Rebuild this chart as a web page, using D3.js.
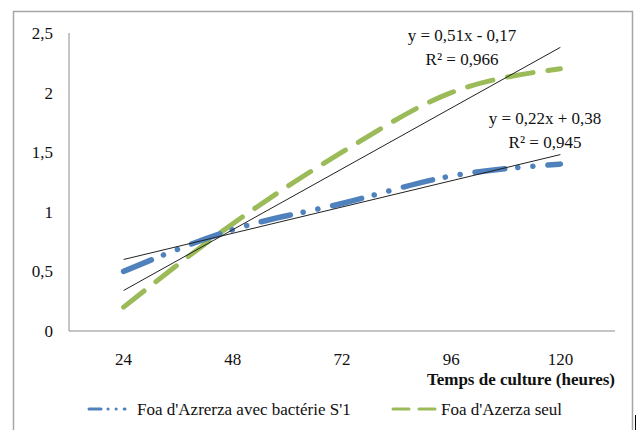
<!DOCTYPE html>
<html>
<head>
<meta charset="utf-8">
<script src="https://cdn.jsdelivr.net/npm/d3@7"></script>
<style>
  body { margin: 0; background: #fff; }
  text { font-family: "Liberation Serif", "Times New Roman", serif; fill: #111; font-size: 17px; }
</style>
</head>
<body>
<div id="chart"></div>
<script>
// growth over culture time

var hours = ['24', '48', '72', '96', '120']
var withBacteria = [0.5, 0.85, 1.07, 1.3, 1.4]
var alone = [0.2, 0.9, 1.5, 2.0, 2.2]
var yTicks = [0, 0.5, 1, 1.5, 2, 2.5]
var seriesNames = ["Foa d'Azrerza avec bactérie S'1", "Foa d'Azerza seul"]
var trends = [
  {slope: 0.22, intercept: 0.38, eq: 'y = 0,22x + 0,38', r2: 'R² = 0,945'},
  {slope: 0.51, intercept: -0.17, eq: 'y = 0,51x - 0,17', r2: 'R² = 0,966'}
]

var width = 641,
  height = 430,
  plotLeft = 69,
  plotRight = 615,
  plotTop = 33,
  plotBottom = 331

var x = d3.scaleBand().domain(hours).range([plotLeft, plotRight])
var y = d3.scaleLinear().domain([0, 2.5]).range([plotBottom, plotTop])
var cx = function(d, i) { return x(hours[i]) + x.bandwidth() / 2 }

var svg = d3.select('#chart').append('svg')
  .attr('width', width)
  .attr('height', height)

// outer frame
svg.append('rect')
  .attr('x', 13.5).attr('y', 11.5)
  .attr('width', 619).attr('height', 440)
  .attr('fill', 'none')
  .attr('stroke', '#a6a6a6')
  .attr('stroke-width', 1.5)

// axes lines
svg.append('line')
  .attr('x1', plotLeft).attr('x2', plotLeft)
  .attr('y1', y(2.5)).attr('y2', plotBottom)
  .attr('stroke', '#8c8c8c')
svg.append('line')
  .attr('x1', plotLeft).attr('x2', plotRight)
  .attr('y1', plotBottom).attr('y2', plotBottom)
  .attr('stroke', '#8c8c8c')

svg.selectAll('text.ytick').data(yTicks)
  .enter().append('text')
  .classed('ytick', true)
  .attr('x', 53)
  .attr('y', function(d) { return y(d) + 6 })
  .attr('text-anchor', 'end')
  .text(function(d) { return String(d).replace('.', ',') })

svg.selectAll('text.xtick').data(hours)
  .enter().append('text')
  .classed('xtick', true)
  .attr('x', function(d) { return x(d) + x.bandwidth() / 2 })
  .attr('y', 365)
  .attr('text-anchor', 'middle')
  .text(function(d) { return d })

svg.append('text')
  .attr('x', plotRight)
  .attr('y', 385)
  .attr('text-anchor', 'end')
  .style('font-weight', 'bold')
  .text('Temps de culture (heures)')

var line = d3.line()
  .x(cx)
  .y(function(d) { return y(d) })
  .curve(d3.curveMonotoneX)

var blueDash = '30,13,0.1,15,0.1,15'
var greenDash = '26,15'

svg.append('path')
  .datum(alone)
  .attr('d', line)
  .attr('fill', 'none')
  .attr('stroke', '#9bbb59')
  .attr('stroke-width', 5)
  .attr('stroke-linecap', 'round')
  .attr('stroke-dasharray', greenDash)

svg.append('path')
  .datum(withBacteria)
  .attr('d', line)
  .attr('fill', 'none')
  .attr('stroke', '#4f81bd')
  .attr('stroke-width', 5.5)
  .attr('stroke-linecap', 'round')
  .attr('stroke-dasharray', blueDash)

// trend lines
svg.selectAll('line.trend').data(trends)
  .enter().append('line')
  .classed('trend', true)
  .attr('x1', x(hours[0]) + x.bandwidth() / 2)
  .attr('x2', x(hours[4]) + x.bandwidth() / 2)
  .attr('y1', function(d) { return y(d.slope * 1 + d.intercept) })
  .attr('y2', function(d) { return y(d.slope * 5 + d.intercept) })
  .attr('stroke', '#222')
  .attr('stroke-width', 1)

var labelPos = [{x: 545, y: 124}, {x: 462, y: 41}]
trends.forEach(function(t, i) {
  svg.append('text')
    .attr('x', labelPos[i].x).attr('y', labelPos[i].y)
    .attr('text-anchor', 'middle')
    .text(t.eq)
  svg.append('text')
    .attr('x', labelPos[i].x).attr('y', labelPos[i].y + 24)
    .attr('text-anchor', 'middle')
    .text(t.r2)
})

// legend
var legend = [
  {name: seriesNames[0], color: '#4f81bd', dash: '12,7,0.1,8,0.1,8', x1: 89, x2: 125, tx: 137},
  {name: seriesNames[1], color: '#9bbb59', dash: '16,10', x1: 393, x2: 436, tx: 441}
]
legend.forEach(function(l) {
  svg.append('line')
    .attr('x1', l.x1).attr('x2', l.x2)
    .attr('y1', 409).attr('y2', 409)
    .attr('stroke', l.color)
    .attr('stroke-width', 3)
    .attr('stroke-dasharray', l.dash)
    .attr('stroke-linecap', 'round')
  svg.append('text')
    .attr('x', l.tx).attr('y', 415)
    .text(l.name)
})

// small mark in the corner
svg.append('line')
  .attr('x1', 635.5).attr('x2', 635.5)
  .attr('y1', 415).attr('y2', 430)
  .attr('stroke', '#000')
</script>
</body>
</html>
